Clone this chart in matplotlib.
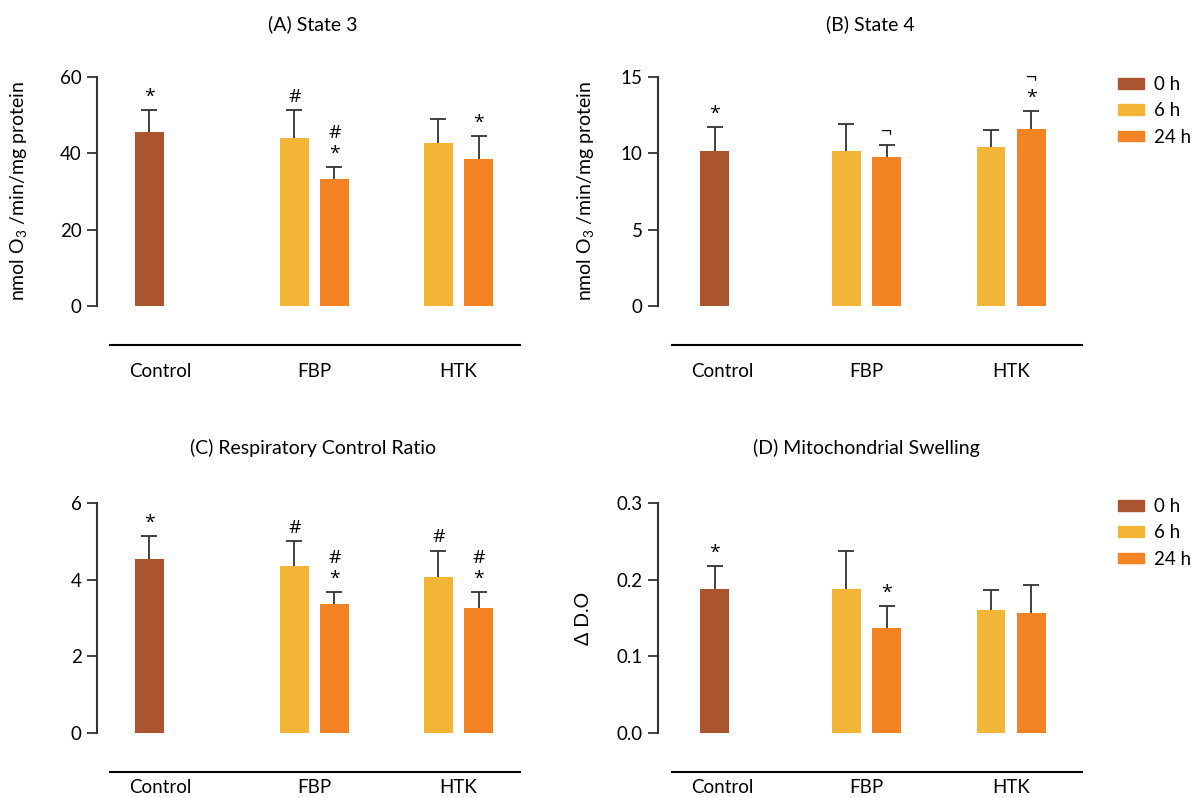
import matplotlib
matplotlib.use("Agg")
import matplotlib.pyplot as plt
from matplotlib.patches import Patch
import numpy as np

plt.rcParams['font.family'] = ['Lato', 'DejaVu Sans']
plt.rcParams['mathtext.fontset'] = 'custom'
plt.rcParams['mathtext.rm'] = 'Lato'

groups = ["Control", "FBP", "HTK"]
series = ["0 h", "6 h", "24 h"]
colors = ["#AB5430", "#F2B535", "#F48423"]

# values: control (0 h), FBP 6 h / 24 h, HTK 6 h / 24 h
state3 = [45.5, 43.9, 33.2, 42.6, 38.4]
state3_err = [5.9, 7.5, 3.2, 6.5, 6.1]
state3_marks = [["*"], ["#"], ["*", "#"], [], ["*"]]

state4 = [10.15, 10.15, 9.75, 10.4, 11.6]
state4_err = [1.57, 1.78, 0.8, 1.15, 1.15]
state4_marks = [["*"], [], ["¬"], [], ["*", "¬"]]

rcr = [4.54, 4.36, 3.37, 4.07, 3.26]
rcr_err = [0.61, 0.64, 0.32, 0.69, 0.43]
rcr_marks = [["*"], ["#"], ["*", "#"], ["#"], ["*", "#"]]

swelling = [0.188, 0.188, 0.137, 0.160, 0.157]
swelling_err = [0.030, 0.049, 0.029, 0.027, 0.036]
swelling_marks = [["*"], [], ["*"], [], []]

panels = [
    dict(title="(A) State 3", vals=state3, err=state3_err, marks=state3_marks,
         ylim=60, yticks=[0, 20, 40, 60], ylabel="nmol O$_3$ /min/mg protein",
         rect=[97, 77, 520, 306], xlim=(-0.51, 2.427), line0=-0.42,
         ctrl_bar=-0.146, ctrl_lab=-0.073, title_xy=(313, 24), fmt="{:.0f}",
         ylab_x=-0.158, xpad=13),
    dict(title="(B) State 4", vals=state4, err=state4_err, marks=state4_marks,
         ylim=15, yticks=[0, 5, 10, 15], ylabel="nmol O$_3$ /min/mg protein",
         rect=[658, 77, 1082, 306], xlim=(-0.443, 2.491), line0=-0.346,
         ctrl_bar=-0.052, ctrl_lab=0.0, title_xy=(870, 24), fmt="{:.0f}",
         ylab_x=-0.144, xpad=13),
    dict(title="(C) Respiratory Control Ratio", vals=rcr, err=rcr_err, marks=rcr_marks,
         ylim=6, yticks=[0, 2, 4, 6], ylabel="",
         rect=[97, 503, 520, 733], xlim=(-0.51, 2.427), line0=-0.42,
         ctrl_bar=-0.146, ctrl_lab=-0.073, title_xy=(313, 448), fmt="{:.0f}",
         ylab_x=-0.158, xpad=5),
    dict(title="(D) Mitochondrial Swelling", vals=swelling, err=swelling_err,
         marks=swelling_marks,
         ylim=0.3, yticks=[0, 0.1, 0.2, 0.3], ylabel="Δ D.O",
         rect=[658, 503, 1082, 733], xlim=(-0.443, 2.491), line0=-0.346,
         ctrl_bar=-0.052, ctrl_lab=0.0, title_xy=(866, 448), fmt="{:.1f}",
         ylab_x=-0.156, xpad=5),
]

W, H = 1199, 797
fig = plt.figure(figsize=(W / 100, H / 100), dpi=100)
spine_col = "#333333"
off = 0.139
width = 0.2

for p in panels:
    x0, y0, x1, y1 = p["rect"]
    ax = fig.add_axes([x0 / W, 1 - y1 / H, (x1 - x0) / W, (y1 - y0) / H])
    # spine placement first, it resets the ticks
    for s in ["top", "right"]:
        ax.spines[s].set_visible(False)
    ax.spines["bottom"].set_position(("outward", 28))
    ax.spines["bottom"].set_bounds(p["line0"], p["xlim"][1])
    ax.spines["bottom"].set_color("black")
    ax.spines["bottom"].set_linewidth(1.5)
    ax.spines["left"].set_color(spine_col)
    ax.spines["left"].set_linewidth(1.5)

    xs = [p["ctrl_bar"], 1 - off, 1 + off, 2 - off, 2 + off]
    cols = [colors[0], colors[1], colors[2], colors[1], colors[2]]
    err = np.array(p["err"])
    bc = ax.bar(xs, p["vals"], width=width, color=cols,
                yerr=[np.zeros_like(err), err], capsize=6,
                error_kw=dict(ecolor=spine_col, elinewidth=1.3, capthick=1.3))
    bc.errorbar.lines[1][0].set_visible(False)  # no cap at the bar top
    for x, v, e, m in zip(xs, p["vals"], err, p["marks"]):
        for k, s in enumerate(m):
            ax.annotate(s, (x, v + e), xytext=(0, 3 + 15 * k), textcoords="offset points",
                        ha="center", va="bottom", fontsize=14, family="Open Sans",
                        annotation_clip=False)
    ax.set_xlim(*p["xlim"])
    ax.set_ylim(0, p["ylim"])
    ax.set_yticks(p["yticks"])
    ax.set_yticklabels([p["fmt"].format(t) for t in p["yticks"]], fontsize=13.5)
    ax.set_xticks([p["ctrl_lab"], 1, 2])
    ax.set_xticklabels(groups, fontsize=13.5)
    ax.tick_params(axis="y", length=7, width=1.3, color=spine_col, pad=4)
    ax.tick_params(axis="x", length=0, pad=p["xpad"])
    if p["ylabel"]:
        ax.set_ylabel(p["ylabel"], fontsize=14)
        ax.yaxis.set_label_coords(p["ylab_x"], 0.5)
    tx, ty = p["title_xy"]
    fig.text(tx / W, 1 - ty / H, p["title"], ha="center", va="center", fontsize=14)

handles = [Patch(color=c) for c in colors]
for ly in [76, 498]:
    fig.legend(handles, series, loc="upper left", bbox_to_anchor=(1118 / W, 1 - ly / H),
               frameon=False, fontsize=13.5, handlelength=1.4, handleheight=0.5,
               labelspacing=0.5, handletextpad=0.5, borderpad=0, borderaxespad=0)

fig.savefig("out.png", dpi=100)
